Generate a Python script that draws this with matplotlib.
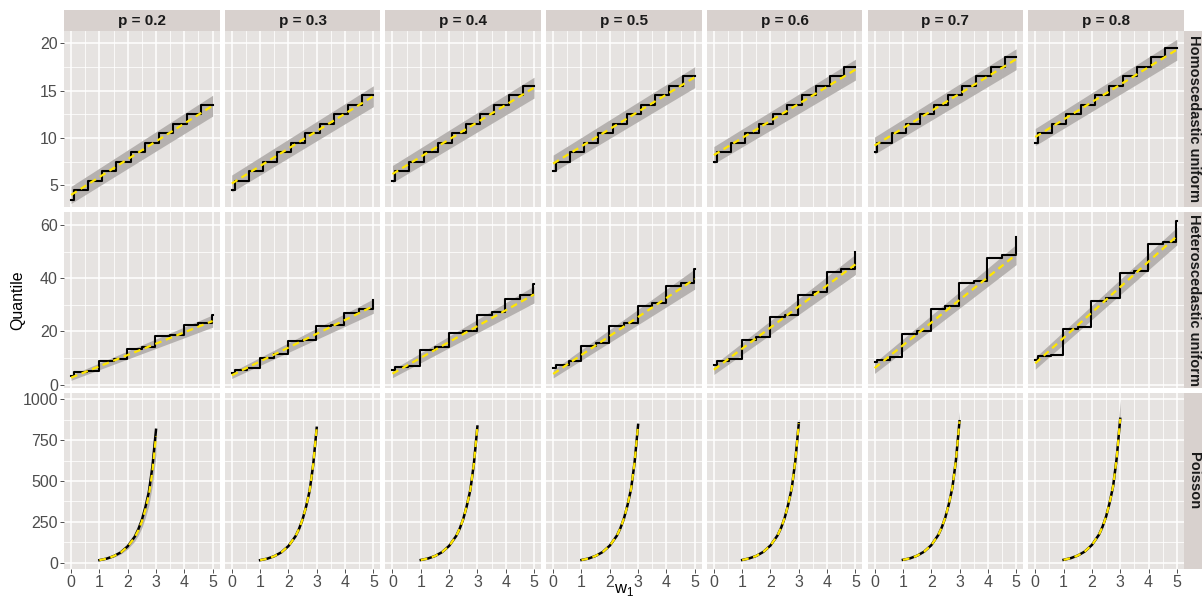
import matplotlib
matplotlib.use("Agg")
import matplotlib.pyplot as plt
import numpy as np

plt.rcParams['font.family'] = ['Liberation Sans', 'DejaVu Sans']

# ---------------- data ----------------
p_labels = ['p = 0.2', 'p = 0.3', 'p = 0.4', 'p = 0.5', 'p = 0.6', 'p = 0.7', 'p = 0.8']
row_labels = ['Homoscedastic uniform', 'Heteroscedastic uniform', 'Poisson']

x_ticks = [0, 1, 2, 3, 4, 5]

# Row 1: homoscedastic uniform -- true quantile (step function)
homo_step_x = [0.0, 0.1, 0.6, 1.1, 1.6, 2.1, 2.6, 3.1, 3.6, 4.1, 4.6, 5.0]
homo_true_02 = [3.5, 4.5, 5.5, 6.5, 7.5, 8.5, 9.5, 10.5, 11.5, 12.5, 13.5]
homo_true_03 = [4.5, 5.5, 6.5, 7.5, 8.5, 9.5, 10.5, 11.5, 12.5, 13.5, 14.5]
homo_true_04 = [5.5, 6.5, 7.5, 8.5, 9.5, 10.5, 11.5, 12.5, 13.5, 14.5, 15.5]
homo_true_05 = [6.5, 7.5, 8.5, 9.5, 10.5, 11.5, 12.5, 13.5, 14.5, 15.5, 16.5]
homo_true_06 = [7.5, 8.5, 9.5, 10.5, 11.5, 12.5, 13.5, 14.5, 15.5, 16.5, 17.5]
homo_true_07 = [8.5, 9.5, 10.5, 11.5, 12.5, 13.5, 14.5, 15.5, 16.5, 17.5, 18.5]
homo_true_08 = [9.5, 10.5, 11.5, 12.5, 13.5, 14.5, 15.5, 16.5, 17.5, 18.5, 19.5]
# estimate (yellow dashed) at x = 0 and x = 5
line_x = [0.0, 5.0]
homo_est_start = [4.0, 5.2, 6.2, 7.3, 8.2, 9.2, 10.1]
homo_est_end = [13.4, 14.4, 15.3, 16.4, 17.2, 18.3, 19.3]
homo_band_hw = [0.9, 1.1]          # band half-width at x = 0 and x = 5

# Row 2: heteroscedastic uniform -- true quantile (step function)
hetero_step_x = [0.0, 0.1, 0.55, 0.98, 1.5, 1.98, 2.5, 2.98, 3.5, 3.98, 4.5, 4.98, 5.0]
hetero_true_02 = [3.4, 4.6, 5.2, 8.75, 9.6, 13.4, 14.0, 18.1, 18.6, 22.5, 23.1, 26.25]
hetero_true_03 = [4.4, 5.6, 6.25, 10.0, 11.5, 16.25, 16.9, 21.9, 22.5, 26.9, 28.5, 31.9]
hetero_true_04 = [5.4, 6.5, 7.0, 12.9, 14.0, 19.4, 20.0, 26.0, 27.3, 32.25, 33.75, 37.75]
hetero_true_05 = [6.25, 7.5, 8.75, 14.6, 15.6, 22.1, 23.1, 29.4, 30.6, 36.9, 38.1, 43.5]
hetero_true_06 = [7.5, 8.75, 9.75, 16.9, 17.75, 25.4, 26.25, 33.75, 34.75, 42.5, 43.4, 49.75]
hetero_true_07 = [8.5, 9.4, 10.4, 19.0, 20.25, 28.5, 29.4, 38.1, 39.0, 47.75, 48.75, 55.6]
hetero_true_08 = [9.4, 10.6, 11.0, 20.9, 21.6, 31.5, 32.5, 42.1, 42.9, 52.7, 53.75, 61.6]
hetero_est_start = [2.6, 3.5, 4.1, 4.0, 5.6, 6.2, 8.0]
hetero_est_end = [23.9, 29.5, 33.9, 39.7, 45.2, 48.9, 55.8]
hetero_band_hw_start = [1.0, 1.2, 1.5, 1.5, 1.8, 2.0, 2.2]
hetero_band_hw_end = [2.3, 2.7, 3.2, 3.8, 3.8, 3.8, 3.3]

# Row 3: Poisson -- quantile curves
pois_x = [1.0, 1.25, 1.5, 1.75, 2.0, 2.25, 2.375, 2.5, 2.625, 2.75, 2.875, 3.0]
pois_true_02 = [16, 25, 40, 63, 101, 160, 205, 262, 340, 435, 590, 813]
pois_true_03 = [16, 25, 40, 64, 102, 162, 207, 265, 344, 440, 598, 825]
pois_true_04 = [17, 26, 41, 65, 103, 164, 209, 268, 348, 445, 604, 833]
pois_true_05 = [17, 26, 42, 66, 105, 166, 212, 271, 352, 450, 612, 843]
pois_true_06 = [17, 27, 42, 67, 106, 168, 214, 274, 356, 455, 620, 853]
pois_true_07 = [18, 27, 43, 68, 107, 170, 217, 278, 360, 461, 628, 865]
pois_true_08 = [18, 28, 44, 69, 109, 172, 220, 282, 366, 468, 638, 880]
pois_est_02 = [16, 25, 40, 62, 99, 156, 198, 252, 325, 415, 560, 775]
pois_band_lo_frac = [0.15, 0.05, 0.04, 0.04, 0.04, 0.04, 0.04]
pois_band_hi_frac = [0.02, 0.03, 0.03, 0.03, 0.04, 0.07, 0.13]

homo_true = [homo_true_02, homo_true_03, homo_true_04, homo_true_05,
             homo_true_06, homo_true_07, homo_true_08]
hetero_true = [hetero_true_02, hetero_true_03, hetero_true_04, hetero_true_05,
               hetero_true_06, hetero_true_07, hetero_true_08]
pois_true = [pois_true_02, pois_true_03, pois_true_04, pois_true_05,
             pois_true_06, pois_true_07, pois_true_08]
pois_est = [pois_est_02, pois_true_03, pois_true_04, pois_true_05,
            pois_true_06, pois_true_07, pois_true_08]

# ---------------- style ----------------
W, H = 1202, 600
PANEL_BG = '#E6E3E1'
STRIP_BG = '#D8D1CE'
BAND = '#B0ACAA'
YELLOW = '#FFE600'
TICK_COL = '#4D4D4D'

row_ylim = [(2.78, 21.27), (-1.1, 64.9), (-35, 1038)]
row_yticks = [[5, 10, 15, 20], [0, 20, 40, 60], [0, 250, 500, 750, 1000]]
row_yminor = [[7.5, 12.5, 17.5], [10, 30, 50], [125, 375, 625, 875]]

left0, pitch_x, pw = 64.0, 160.7, 155.7
top0, pitch_y, ph = 31.0, 181.0, 175.5

fig = plt.figure(figsize=(W / 100, H / 100), dpi=100)


def step_path(xb, vals):
    xs, ys = [], []
    for i, v in enumerate(vals):
        xs += [xb[i], xb[i + 1]]
        ys += [v, v]
    return xs, ys


def draw_est(ax, x, y):
    ln, = ax.plot(x, y, color=YELLOW, lw=1.6, zorder=5, solid_capstyle='butt')
    ln.set_dashes([3.0, 2.1])
    ln.set_dash_capstyle('butt')


for i in range(3):
    for j in range(7):
        left = left0 + j * pitch_x
        top = top0 + i * pitch_y
        ax = fig.add_axes([left / W, 1 - (top + ph) / H, pw / W, ph / H])
        ax.set_facecolor(PANEL_BG)
        for s in ax.spines.values():
            s.set_visible(False)
        ax.set_xlim(-0.25, 5.25)
        ax.set_ylim(*row_ylim[i])
        ax.set_xticks(x_ticks)
        ax.set_xticks([0.5, 1.5, 2.5, 3.5, 4.5], minor=True)
        ax.set_yticks(row_yticks[i])
        ax.set_yticks(row_yminor[i], minor=True)
        ax.grid(True, which='major', color='white', lw=1.1, zorder=0)
        ax.grid(True, which='minor', color='white', lw=0.55, zorder=0)
        ax.set_axisbelow(True)
        ax.tick_params(which='minor', length=0)
        ax.tick_params(which='major', length=3, width=0.6, color='#333333',
                       labelcolor=TICK_COL, labelsize=11.5, pad=1.5)
        if j != 0:
            ax.tick_params(axis='y', length=0, labelleft=False)
        if i != 2:
            ax.tick_params(axis='x', length=0, labelbottom=False)

        if i == 0:
            y0, y1 = homo_est_start[j], homo_est_end[j]
            ax.fill_between(line_x, [y0 - homo_band_hw[0], y1 - homo_band_hw[1]],
                            [y0 + homo_band_hw[0], y1 + homo_band_hw[1]],
                            color=BAND, alpha=0.9, lw=0, zorder=2)
            sx, sy = step_path(homo_step_x, homo_true[j])
            ax.plot(sx, sy, color='black', lw=1.5, zorder=4)
            draw_est(ax, line_x, [y0, y1])
        elif i == 1:
            y0, y1 = hetero_est_start[j], hetero_est_end[j]
            h0, h1 = hetero_band_hw_start[j], hetero_band_hw_end[j]
            ax.fill_between(line_x, [y0 - h0, y1 - h1], [y0 + h0, y1 + h1],
                            color=BAND, alpha=0.9, lw=0, zorder=2)
            sx, sy = step_path(hetero_step_x, hetero_true[j])
            ax.plot(sx, sy, color='black', lw=1.5, zorder=4)
            draw_est(ax, line_x, [y0, y1])
        else:
            est = np.array(pois_est[j], dtype=float)
            ax.fill_between(pois_x, est * (1 - pois_band_lo_frac[j]),
                            est * (1 + pois_band_hi_frac[j]),
                            color=BAND, alpha=0.9, lw=0, zorder=2)
            ax.plot(pois_x, pois_true[j], color='black', lw=1.8, zorder=4)
            draw_est(ax, pois_x, pois_est[j])

        if i == 0:
            sax = fig.add_axes([left / W, 1 - top / H, pw / W, 21 / H])
            sax.set_facecolor(STRIP_BG)
            sax.set_xticks([]); sax.set_yticks([])
            for s in sax.spines.values():
                s.set_visible(False)
            sax.text(0.5, 0.47, p_labels[j], ha='center', va='center',
                     fontsize=11, fontweight='bold', color='#1A1A1A',
                     transform=sax.transAxes)
        if j == 6:
            rleft = left + pw + 0.5
            rax = fig.add_axes([rleft / W, 1 - (top + ph) / H, (W - rleft) / W, ph / H])
            rax.set_facecolor(STRIP_BG)
            rax.set_xticks([]); rax.set_yticks([])
            for s in rax.spines.values():
                s.set_visible(False)
            rax.text(0.55, 0.5, row_labels[i], ha='center', va='center',
                     rotation=270, fontsize=10.5, fontweight='bold', color='#1A1A1A',
                     transform=rax.transAxes, clip_on=False)

fig.text(18 / W, 1 - 300 / H, 'Quantile', rotation=90, ha='center', va='center',
         fontsize=11.5, color='black')
fig.text(624 / W, 1 - 590 / H, r'w$_\mathregular{1}$', ha='center', va='center',
         fontsize=12, color='black')

fig.savefig('out.png', dpi=100)
